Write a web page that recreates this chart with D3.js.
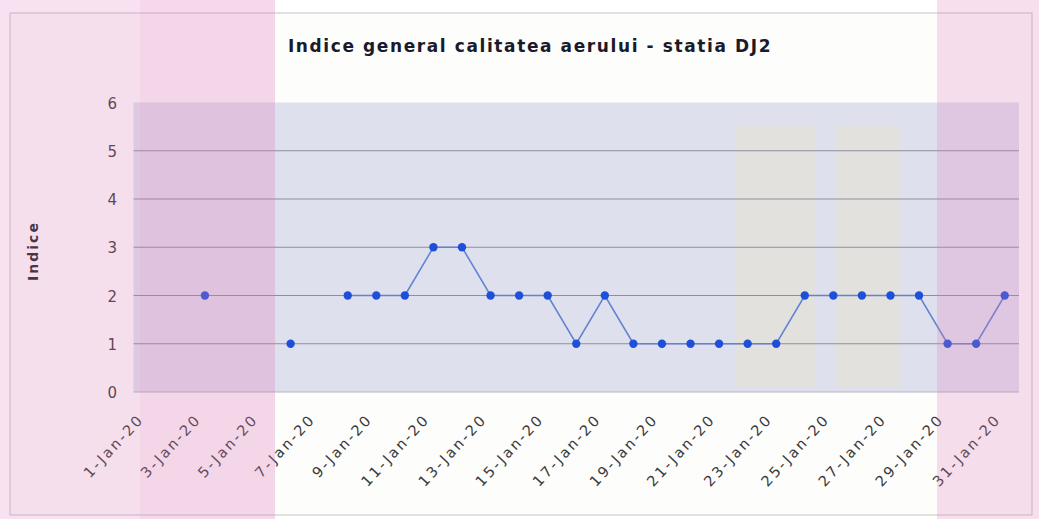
<!DOCTYPE html>
<html><head><meta charset="utf-8">
<script src="https://cdn.jsdelivr.net/npm/d3@7"></script>
<style>body{margin:0;background:#fff;} svg{display:block;}</style>
</head><body>
<script>
const days = d3.range(1, 32);
const values = [null, null, 2, null, null, 1, null, 2, 2, 2, 3, 3, 2, 2, 2, 1, 2, 1, 1, 1, 1, 1, 1, 2, 2, 2, 2, 2, 1, 1, 2];
const yTicks = [0, 1, 2, 3, 4, 5, 6];
const xTickDays = d3.range(1, 32, 2);
const title = "Indice general calitatea aerului - statia DJ2";
const yTitle = "Indice";

const W = 1039, H = 519;
const FONT = "DejaVu Sans, Liberation Sans, Arial, sans-serif";
const svg = d3.select("body").append("svg").attr("width", W).attr("height", H);

// chart area frame
svg.append("rect").attr("x", 10).attr("y", 13).attr("width", 1022).attr("height", 502)
  .attr("fill", "#fdfdfb").attr("stroke", "#c4c4c4").attr("stroke-width", 1);

const x = d3.scaleLinear().domain([0.5, 31.5]).range([133.5, 1019]);
const y = d3.scaleLinear().domain([0, 6]).range([392, 102.5]);

// plot background
svg.append("rect").attr("x", x(0.5)).attr("y", y(6)).attr("width", x(31.5) - x(0.5)).attr("height", y(0) - y(6))
  .attr("fill", "#dfe0ee");

// faint yellowish scan stains
[[735, 815], [835, 900]].forEach(([a, b]) => {
  svg.append("rect").attr("x", a).attr("y", 125).attr("width", b - a).attr("height", 262)
    .attr("fill", "rgba(240,228,140,0.16)");
});

// gridlines
svg.append("g").selectAll("line").data(yTicks.filter(d => d > 0 && d < 6)).join("line")
  .attr("x1", x(0.5)).attr("x2", x(31.5)).attr("y1", d => y(d)).attr("y2", d => y(d))
  .attr("stroke", "#8e8e9c").attr("stroke-width", 1);
svg.append("line").attr("x1", x(0.5)).attr("x2", x(31.5)).attr("y1", y(0)).attr("y2", y(0))
  .attr("stroke", "#b4b4c0");

// title
svg.append("text").attr("x", 530).attr("y", 52).attr("text-anchor", "middle")
  .attr("font-family", FONT).attr("font-weight", "bold")
  .attr("font-size", 17).attr("letter-spacing", 1.6).attr("fill", "#1a1a2a").text(title);

// y axis labels
svg.append("g").selectAll("text").data(yTicks).join("text")
  .attr("x", 117).attr("y", d => y(d) + 6).attr("text-anchor", "end")
  .attr("font-family", FONT).attr("font-size", 15)
  .attr("fill", "#3a3a3a").text(d => d);

svg.append("text").attr("transform", "translate(38,251) rotate(-90)").attr("text-anchor", "middle")
  .attr("font-family", FONT).attr("font-weight", "bold")
  .attr("font-size", 14).attr("letter-spacing", 2).attr("fill", "#222").text(yTitle);

// x axis labels
const fmt = d => `${d}-Jan-20`;
svg.append("g").selectAll("text").data(xTickDays).join("text")
  .attr("transform", d => `translate(${x(d) - 3},${420}) rotate(-47)`)
  .attr("text-anchor", "end")
  .attr("font-family", FONT).attr("font-size", 14.5).attr("letter-spacing", 2.4)
  .attr("fill", "#3a3a3a").text(fmt);

// line
const pts = days.map((d, i) => ({d, v: values[i]}));
const line = d3.line().defined(p => p.v !== null).x(p => x(p.d)).y(p => y(p.v));
svg.append("path").datum(pts).attr("d", line).attr("fill", "none")
  .attr("stroke", "#6284d0").attr("stroke-width", 1.6);
svg.append("g").selectAll("circle").data(pts.filter(p => p.v !== null)).join("circle")
  .attr("cx", p => x(p.d)).attr("cy", p => y(p.v)).attr("r", 4.2).attr("fill", "#1d4fd8");

// pink scan bands at the edges
svg.append("rect").attr("x", 0).attr("y", 0).attr("width", 275).attr("height", H)
  .attr("fill", "rgba(225,120,185,0.22)");
svg.append("rect").attr("x", 140).attr("y", 0).attr("width", 135).attr("height", H)
  .attr("fill", "rgba(215,110,175,0.08)");
svg.append("rect").attr("x", 937).attr("y", 0).attr("width", 102).attr("height", H)
  .attr("fill", "rgba(225,120,185,0.24)");
</script>
</body></html>
